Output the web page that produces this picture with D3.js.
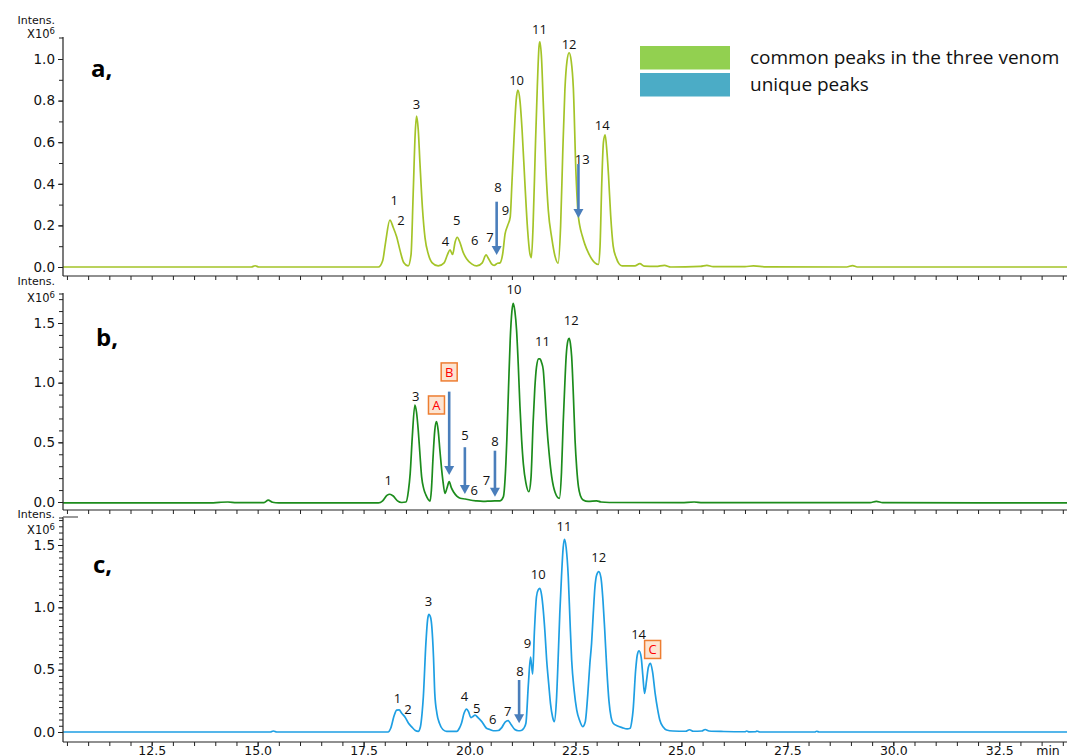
<!DOCTYPE html>
<html><head><meta charset="utf-8">
<script src="https://cdn.jsdelivr.net/npm/d3@7"></script>
<style>body{margin:0;background:#fff}svg{display:block}</style>
</head><body><svg id="c" width="1067" height="756"></svg>
<script>
// ---------- DATA (retention time in min, intensity in 10^6) ----------
const traceA = [[10.41,0],[14.85,0],[14.94,0.006],[15.03,0],[17.85,0],[17.95,0.03],[18.02,0.12],[18.12,0.225],[18.2,0.19],[18.28,0.145],[18.36,0.08],[18.45,0.02],[18.55,0.005],[18.62,0.06],[18.67,0.35],[18.72,0.65],[18.75,0.725],[18.79,0.66],[18.83,0.5],[18.89,0.28],[18.95,0.14],[19.03,0.06],[19.12,0.02],[19.26,0.005],[19.4,0.02],[19.48,0.06],[19.54,0.082],[19.6,0.06],[19.66,0.12],[19.71,0.143],[19.77,0.12],[19.85,0.07],[19.93,0.04],[20.05,0.015],[20.17,0.005],[20.3,0.02],[20.39,0.058],[20.45,0.04],[20.52,0.015],[20.58,0.008],[20.66,0.018],[20.72,0.02],[20.78,0.06],[20.84,0.16],[20.9,0.2],[20.96,0.24],[21.0,0.4],[21.05,0.62],[21.1,0.8],[21.14,0.85],[21.19,0.8],[21.24,0.66],[21.31,0.39],[21.37,0.18],[21.42,0.07],[21.46,0.045],[21.5,0.2],[21.55,0.55],[21.6,0.87],[21.64,1.06],[21.66,1.082],[21.7,1.0],[21.74,0.79],[21.8,0.48],[21.86,0.27],[21.94,0.14],[22.02,0.05],[22.09,0.018],[22.15,0.2],[22.2,0.55],[22.25,0.85],[22.3,0.99],[22.35,1.03],[22.4,0.99],[22.45,0.86],[22.51,0.46],[22.56,0.26],[22.6,0.2],[22.66,0.15],[22.72,0.11],[22.8,0.07],[22.88,0.04],[22.96,0.02],[23.04,0.012],[23.08,0.1],[23.12,0.4],[23.16,0.6],[23.2,0.635],[23.24,0.56],[23.28,0.44],[23.33,0.25],[23.39,0.1],[23.46,0.045],[23.53,0.015],[23.6,0.005],[23.9,0.005],[24.02,0.016],[24.12,0.004],[24.4,0.003],[24.6,0.008],[24.75,0.0],[25.45,0.003],[25.6,0.008],[25.75,0.002],[26.5,0.002],[26.7,0.005],[27.0,0.001],[28.9,0.0],[29.04,0.007],[29.15,0.0],[34.1,0]];

const traceB = [[10.41,-0.008],[13.9,-0.008],[14.1,-0.003],[14.3,0.0],[14.5,-0.006],[15.15,-0.006],[15.25,0.015],[15.35,-0.002],[15.5,-0.008],[17.85,-0.008],[17.95,0.01],[18.05,0.055],[18.12,0.065],[18.2,0.05],[18.3,0.01],[18.4,-0.004],[18.5,0.0],[18.56,0.1],[18.6,0.24],[18.65,0.55],[18.71,0.813],[18.75,0.75],[18.79,0.6],[18.83,0.4],[18.87,0.21],[18.92,0.11],[18.97,0.06],[19.07,0.008],[19.1,0.1],[19.14,0.38],[19.18,0.6],[19.22,0.673],[19.26,0.6],[19.3,0.436],[19.34,0.28],[19.37,0.184],[19.42,0.073],[19.47,0.12],[19.52,0.17],[19.57,0.12],[19.62,0.086],[19.7,0.05],[19.78,0.031],[19.9,0.025],[20.01,0.017],[20.15,0.01],[20.32,0.005],[20.5,0.008],[20.72,0.01],[20.8,0.045],[20.84,0.2],[20.88,0.52],[20.92,0.95],[20.96,1.36],[21.0,1.6],[21.03,1.665],[21.07,1.6],[21.11,1.44],[21.15,1.15],[21.19,0.8],[21.23,0.52],[21.27,0.32],[21.33,0.16],[21.4,0.086],[21.45,0.2],[21.5,0.66],[21.54,0.95],[21.58,1.13],[21.63,1.2],[21.66,1.2],[21.7,1.17],[21.74,1.106],[21.78,0.9],[21.82,0.66],[21.88,0.4],[21.94,0.21],[22.02,0.08],[22.12,0.031],[22.17,0.25],[22.21,0.66],[22.25,1.0],[22.28,1.218],[22.32,1.35],[22.35,1.372],[22.38,1.33],[22.41,1.218],[22.45,0.9],[22.49,0.52],[22.53,0.28],[22.57,0.128],[22.62,0.05],[22.68,0.017],[22.8,0.005],[23.0,0.01],[23.1,0.0],[23.3,-0.004],[25.0,-0.006],[25.3,0.0],[25.5,-0.006],[29.45,-0.006],[29.6,0.005],[29.75,-0.006],[34.1,-0.008]];

const traceC = [[10.41,0],[15.3,0],[15.37,0.008],[15.45,0],[18.08,0],[18.14,0.03],[18.22,0.13],[18.28,0.175],[18.34,0.178],[18.4,0.15],[18.48,0.118],[18.56,0.07],[18.63,0.043],[18.72,0.012],[18.79,0.005],[18.84,0.04],[18.88,0.15],[18.91,0.283],[18.97,0.711],[19.01,0.9],[19.04,0.944],[19.08,0.92],[19.11,0.845],[19.15,0.6],[19.18,0.31],[19.23,0.15],[19.29,0.07],[19.37,0.02],[19.46,0.005],[19.7,0.005],[19.76,0.03],[19.81,0.07],[19.87,0.15],[19.93,0.184],[19.98,0.16],[20.03,0.115],[20.08,0.125],[20.13,0.136],[20.2,0.115],[20.29,0.083],[20.4,0.03],[20.48,0.02],[20.56,0.01],[20.68,0.012],[20.76,0.035],[20.84,0.08],[20.91,0.091],[20.98,0.06],[21.07,0.02],[21.15,0.01],[21.22,0.012],[21.28,0.03],[21.33,0.07],[21.39,0.39],[21.44,0.6],[21.49,0.465],[21.53,0.8],[21.58,1.085],[21.62,1.14],[21.66,1.152],[21.7,1.1],[21.74,0.978],[21.78,0.8],[21.82,0.577],[21.87,0.38],[21.91,0.23],[21.96,0.12],[22.0,0.083],[22.05,0.25],[22.09,0.577],[22.13,0.95],[22.17,1.245],[22.21,1.48],[22.24,1.545],[22.28,1.48],[22.33,1.245],[22.37,0.9],[22.41,0.577],[22.47,0.33],[22.53,0.176],[22.6,0.09],[22.67,0.043],[22.73,0.08],[22.79,0.3],[22.84,0.55],[22.88,0.711],[22.92,0.95],[22.96,1.165],[23.0,1.26],[23.05,1.286],[23.1,1.24],[23.15,1.05],[23.19,0.82],[23.24,0.5],[23.29,0.25],[23.34,0.12],[23.39,0.07],[23.48,0.05],[23.6,0.035],[23.72,0.025],[23.79,0.03],[23.83,0.09],[23.86,0.176],[23.92,0.497],[23.96,0.62],[24.0,0.65],[24.05,0.6],[24.09,0.45],[24.13,0.31],[24.18,0.42],[24.22,0.52],[24.27,0.551],[24.32,0.48],[24.38,0.31],[24.44,0.18],[24.49,0.096],[24.57,0.04],[24.65,0.016],[24.8,0.008],[25.1,0.006],[25.19,0.018],[25.28,0.006],[25.48,0.008],[25.56,0.02],[25.65,0.008],[26.0,0.004],[26.5,0.002],[26.54,0.008],[26.6,0.001],[26.75,0.002],[26.78,0.008],[26.85,0.0],[28.15,0.0],[28.19,0.006],[28.25,0.0],[34.1,0]];

const xTickLabels = [12.5, 15.0, 17.5, 20.0, 22.5, 25.0, 27.5, 30.0, 32.5];
const yTicksA = [0.0, 0.2, 0.4, 0.6, 0.8, 1.0];
const yTicksB = [0.0, 0.5, 1.0, 1.5];
const yTicksC = [0.0, 0.5, 1.0, 1.5];

// peak labels: [text, time, intensity]
const peaksA = [["1",18.22,0.319],["2",18.38,0.226],["3",18.75,0.784],["4",19.43,0.122],["5",19.70,0.223],["6",20.12,0.13],["7",20.48,0.143],["8",20.67,0.383],["9",20.85,0.271],["10",21.11,0.896],["11",21.65,1.143],["12",22.35,1.072],["13",22.66,0.518],["14",23.13,0.683]];
const peaksB = [["1",18.08,0.179],["3",18.73,0.889],["5",19.89,0.556],["6",20.11,0.095],["7",20.40,0.184],["8",20.60,0.505],["10",21.05,1.785],["11",21.72,1.344],["12",22.40,1.52]];
const peaksC = [["1",18.30,0.27],["2",18.55,0.184],["3",19.03,1.05],["4",19.88,0.283],["5",20.17,0.19],["6",20.55,0.104],["7",20.90,0.168],["8",21.19,0.489],["9",21.37,0.711],["10",21.62,1.265],["11",22.23,1.646],["12",23.05,1.398],["14",23.99,0.783]];
const uniqueB = [["A",19.22,0.813],["B",19.52,1.09]];
const uniqueC = [["C",24.32,0.662]];
// arrows: [time, fromIntensity, toIntensity]
const arrowsA = [[20.64,0.314,0.058],[22.57,0.495,0.236]];
const arrowsB = [[19.52,0.925,0.226],[19.89,0.459,0.067],[20.60,0.43,0.044]];
const arrowsC = [[21.17,0.417,0.07]];
const legendItems = [["common peaks in the three venom","#92d050"],["unique peaks","#4bacc6"]];

// ---------- DRAWING ----------
const svg = d3.select("#c");
const W = 1067;
const x = d3.scaleLinear().domain([12.5, 30]).range([151.7, 893.3]);
const AX = 63;
const minorX = d3.range(10.5, 34.01, 0.5);

const panels = [
  {data: traceA, color: "#a4c428", y: d3.scaleLinear().domain([0,1]).range([267,59]), top: 37, bottom: 276,
   ticks: yTicksA, minorStep: 0.1, maxV: 1.1, label: "a,", lx: 91, ly: 77,
   intensY: 20, x10Y: 34, peaks: peaksA, boxes: [], arrows: arrowsA, xLabels: false, bracket: false},
  {data: traceB, color: "#1c8c1c", y: d3.scaleLinear().domain([0,1.5]).range([502,323]), top: 293, bottom: 510,
   ticks: yTicksB, minorStep: 0.1, maxV: 1.7, label: "b,", lx: 96, ly: 346,
   intensY: 281, x10Y: 298, peaks: peaksB, boxes: uniqueB, arrows: arrowsB, xLabels: false, bracket: false},
  {data: traceC, color: "#1e9fe3", y: d3.scaleLinear().domain([0,1.5]).range([732,545]), top: 517, bottom: 742,
   ticks: yTicksC, minorStep: 0.05, maxV: 1.7, label: "c,", lx: 93, ly: 573,
   intensY: 514, x10Y: 530, peaks: peaksC, boxes: uniqueC, arrows: arrowsC, xLabels: true, bracket: true}
];

const axisFont = "'DejaVu Sans', Verdana, sans-serif";
const peakFont = "'Open Sans', 'Liberation Sans', sans-serif";

svg.append("defs").append("clipPath").attr("id","clipx")
  .append("rect").attr("x", AX).attr("y", 0).attr("width", W - AX).attr("height", 756);

panels.forEach(p => {
  const g = svg.append("g");
  const line = d3.line().x(d => x(d[0])).y(d => p.y(d[1])).curve(d3.curveMonotoneX);
  g.append("path").datum(p.data).attr("d", line).attr("fill","none")
    .attr("stroke", p.color).attr("stroke-width", 1.7).attr("clip-path","url(#clipx)");

  g.append("line").attr("x1",AX).attr("x2",AX).attr("y1",p.top).attr("y2",p.bottom)
    .attr("stroke","#222").attr("stroke-width",1.2);
  g.append("line").attr("x1",AX).attr("x2",W).attr("y1",p.bottom).attr("y2",p.bottom)
    .attr("stroke","#222").attr("stroke-width",1.2);

  const minorY = d3.range(0, p.maxV + 1e-9, p.minorStep).filter(v => p.y(v) >= p.top + 2);
  const gy = g.append("g").attr("transform",`translate(${AX},0)`)
    .call(d3.axisLeft(p.y).tickValues(minorY).tickSize(4).tickFormat(""));
  gy.select(".domain").remove();
  gy.selectAll("line").attr("stroke","#222");
  g.append("line").attr("x1",AX-4).attr("x2",AX).attr("y1",p.top+1).attr("y2",p.top+1).attr("stroke","#222");

  const gyl = g.append("g").attr("transform",`translate(${AX},0)`)
    .call(d3.axisLeft(p.y).tickValues(p.ticks).tickSize(5).tickFormat(d3.format(".1f")));
  gyl.select(".domain").remove();
  gyl.selectAll("line").attr("stroke","#222");
  gyl.selectAll("text").attr("font-family",axisFont).attr("font-size","13.5px").attr("fill","#111").attr("x",-8);

  const gx = g.append("g").attr("transform",`translate(0,${p.bottom})`)
    .call(d3.axisBottom(x).tickValues(minorX).tickSize(4).tickFormat(""));
  gx.select(".domain").remove();
  gx.selectAll("line").attr("stroke","#222");
  if (p.xLabels) {
    const gxl = g.append("g").attr("transform",`translate(0,${p.bottom})`)
      .call(d3.axisBottom(x).tickValues(xTickLabels).tickSize(4).tickFormat(d3.format(".1f")));
    gxl.select(".domain").remove();
    gxl.selectAll("line").attr("stroke","#222");
    gxl.selectAll("text").attr("font-family",axisFont).attr("font-size","12.5px").attr("fill","#111").attr("y",4);
    g.append("text").attr("x",1048).attr("y",p.bottom+4).attr("dy","0.71em").attr("text-anchor","middle")
      .attr("font-family",axisFont).attr("font-size","12.5px").attr("fill","#111").text("min");
  }
  if (p.bracket) {
    g.append("line").attr("x1",AX).attr("x2",AX+15).attr("y1",p.top).attr("y2",p.top)
      .attr("stroke","#777").attr("stroke-width",1.5);
  }

  g.append("text").attr("x",55).attr("y",p.intensY).attr("dy","0.35em").attr("text-anchor","end")
    .attr("font-family",axisFont).attr("font-size","11px").attr("fill","#111").text("Intens.");
  const xt = g.append("text").attr("x",55).attr("y",p.x10Y).attr("dy","0.35em").attr("text-anchor","end")
    .attr("font-family",axisFont).attr("font-size","11.5px").attr("fill","#111");
  xt.append("tspan").text("X10");
  xt.append("tspan").attr("font-size","8.5px").attr("dy","-4").text("6");

  g.append("text").attr("x",p.lx).attr("y",p.ly).attr("font-family",peakFont).attr("font-weight","bold")
    .attr("font-size","24px").attr("fill","#000").text(p.label);

  p.arrows.forEach(a => {
    const ax = x(a[0]), y1 = p.y(a[1]), y2 = p.y(a[2]);
    g.append("line").attr("x1",ax).attr("x2",ax).attr("y1",y1).attr("y2",y2-8)
      .attr("stroke","#4a7ebb").attr("stroke-width",2.6);
    g.append("path").attr("d",`M${ax-5},${y2-9}L${ax+5},${y2-9}L${ax},${y2}Z`).attr("fill","#4a7ebb");
  });

  p.peaks.forEach(k => {
    g.append("text").attr("x",x(k[1])).attr("y",p.y(k[2])).attr("dy","0.36em").attr("text-anchor","middle")
      .attr("font-family",peakFont).attr("font-size","13px").attr("fill","#111").text(k[0]);
  });
  p.boxes.forEach(k => {
    const cx = x(k[1]), cy = p.y(k[2]);
    g.append("rect").attr("x",cx-8).attr("y",cy-9).attr("width",16).attr("height",18)
      .attr("fill","#fce4d2").attr("stroke","#ed7d31").attr("stroke-width",1.5);
    g.append("text").attr("x",cx).attr("y",cy).attr("dy","0.36em").attr("text-anchor","middle")
      .attr("font-family",peakFont).attr("font-size","13px").attr("fill","#ff0000").text(k[0]);
  });
});

const lg = svg.append("g");
legendItems.forEach((d,i) => {
  lg.append("rect").attr("x",640).attr("y",46 + i*27).attr("width",90).attr("height",23.5).attr("fill",d[1]);
  lg.append("text").attr("x",750).attr("y",57.5 + i*27).attr("dy","0.35em")
    .attr("font-family",peakFont).attr("font-size","19px").attr("fill","#111").text(d[0]);
});
</script>
</body></html>
